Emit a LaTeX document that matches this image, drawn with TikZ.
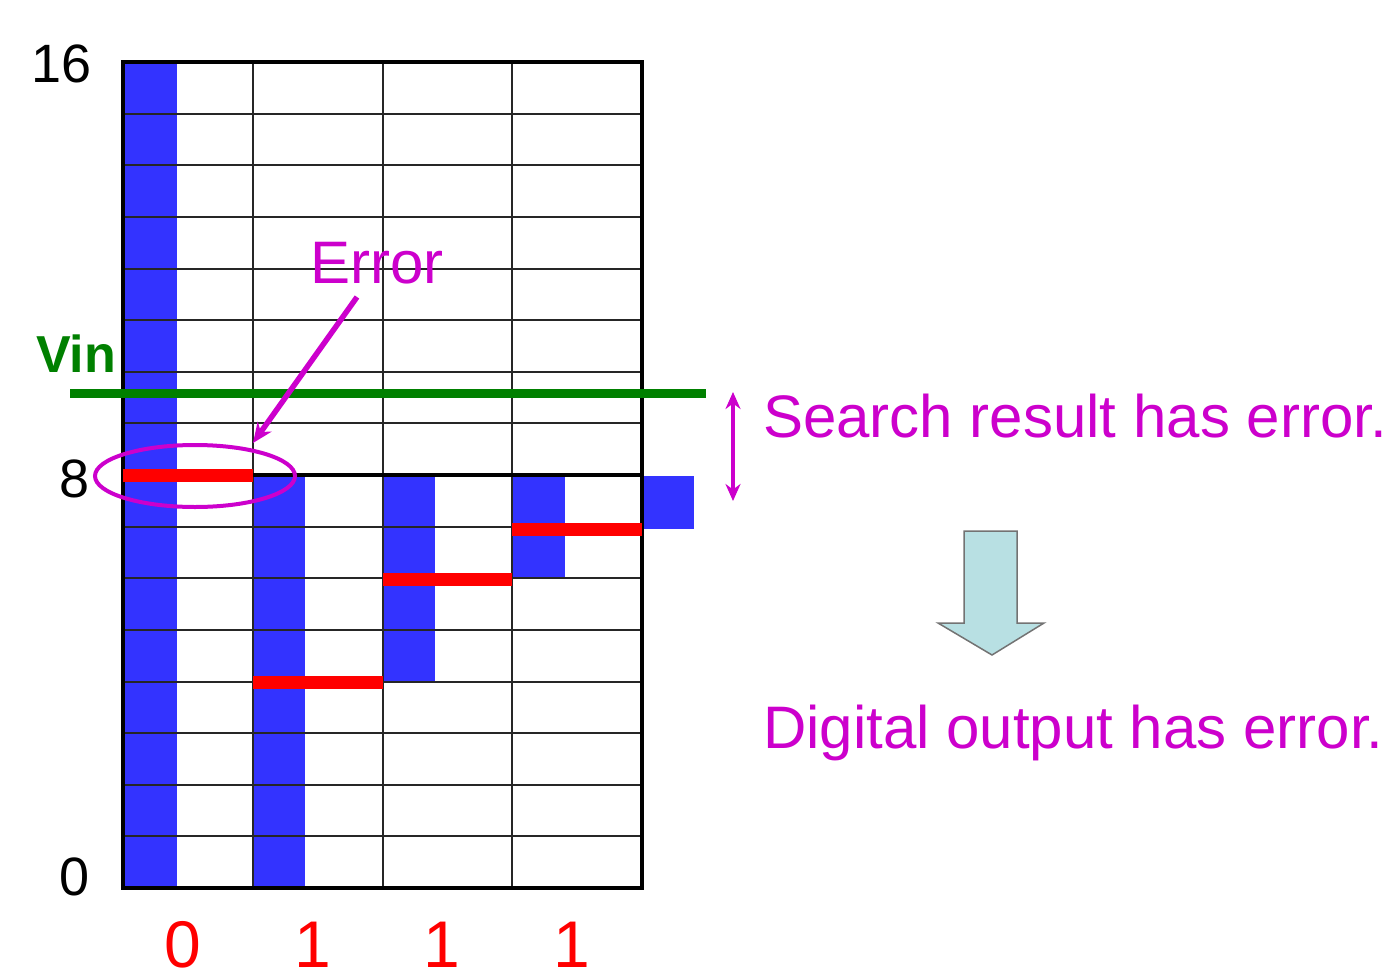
\documentclass[tikz,border=0pt]{standalone}
\usepackage{fontspec}
\setmainfont{Liberation Sans}
\usetikzlibrary{arrows.meta,shapes.geometric}
\definecolor{barblue}{HTML}{3333FF}
\definecolor{mag}{HTML}{CC00CC}
\definecolor{vgreen}{HTML}{008000}
\definecolor{arrowfill}{HTML}{B8E0E3}
\tikzset{
  gridline/.style={line width=2pt, black!85},
  outerline/.style={line width=4.5pt, black},
  redbar/.style={line width=13pt, red},
  bluebar/.style={fill=barblue, draw=none},
  axislbl/.style={font=\fontsize{54}{60}\selectfont, inner sep=0pt},
  bitlbl/.style={font=\fontsize{66}{72}\selectfont, text=red, inner sep=0pt},
  magtext/.style={font=\fontsize{60}{66}\selectfont, text=mag, inner sep=0pt},
}
\begin{document}
\begin{tikzpicture}[x=1pt,y=-1pt]
\useasboundingbox (0,0) rectangle (1388,974);
% blue bars
\fill[bluebar] (123,62) rectangle (177,888);
\fill[bluebar] (253,475) rectangle (305,888);
\fill[bluebar] (383,475) rectangle (435,682);
\fill[bluebar] (512,475) rectangle (565,579);
\fill[bluebar] (642,476) rectangle (694,529);
% grid
\foreach \k in {1,...,15} {
  \draw[gridline] (123,{62+\k*51.625}) -- (642,{62+\k*51.625});
}
\foreach \xx in {253,383,512} {
  \draw[gridline] (\xx,62) -- (\xx,888);
}
\draw[line width=3.5pt] (253,475) -- (642,475);
\draw[outerline] (123,62) rectangle (642,888);
% red bars
\draw[redbar] (123,475) -- (253,475);
\draw[redbar] (253,682) -- (383,682);
\draw[redbar] (383,579) -- (512,579);
\draw[redbar] (512,529) -- (642,529);
% Vin line
\draw[vgreen, line width=9pt] (70,393) -- (706,393);
% axis labels
\node[axislbl, anchor=base east] (n16) at (92,82) {16};
\node[axislbl, anchor=base east] (n8) at (90,497) {8};
\node[axislbl, anchor=base east] (n0) at (90,895) {0};
\node[font=\fontsize{52}{58}\selectfont\bfseries, text=vgreen, inner sep=0pt, anchor=base] (vin) at (76,372) {Vin};
% bit labels
\node[bitlbl, anchor=base] (b0) at (183,967) {0};
\node[bitlbl, anchor=base] (b1) at (313,967) {1};
\node[bitlbl, anchor=base] (b2) at (442,967) {1};
\node[bitlbl, anchor=base] (b3) at (572,967) {1};
% error ellipse and arrow
\node[ellipse, draw=mag, line width=4pt, minimum width=200pt, minimum height=62pt, inner sep=0pt] (errell) at (195,476) {};
\node[magtext, anchor=base west] (err) at (310,283) {Error};
\coordinate (errtip) at (253,443);
\draw[mag, line width=5.5pt, -{Stealth[length=20pt,width=17pt]}] (357,297) -- (errtip);
% right side
\coordinate (dtop) at (733,392);
\coordinate (dbot) at (733,501);
\draw[mag, line width=4pt, {Stealth[length=17pt,width=15pt]}-{Stealth[length=17pt,width=15pt]}] (dtop) -- (dbot);
\node[magtext, anchor=base west] (search) at (763,437) {Search result has error.};
\node[magtext, anchor=base west] (digital) at (763,748) {Digital output has error.};
\draw[fill=arrowfill, draw=black!55, line width=1.5pt, line join=miter]
  (964,531) -- (1017,531) -- (1017,623) -- (1044,623) -- (992,655) -- (938,623) -- (964,623) -- cycle;
\end{tikzpicture}
\end{document}
